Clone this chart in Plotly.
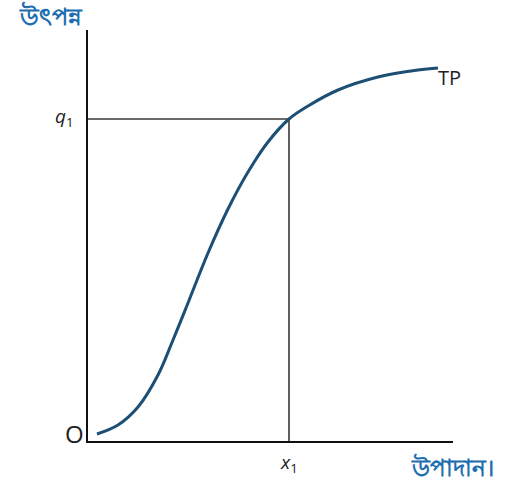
import plotly.graph_objects as go

# Total product curve: input (x) vs output (y)
tp_input = [0.9, 3.0, 5.0, 7.0, 8.5, 10.0, 12.0, 14.0, 16.0, 18.0, 20.1, 22.0, 25.0, 29.0, 33.0, 35.0]
tp_output = [0.7, 1.6, 3.4, 6.6, 10.1, 13.8, 18.8, 23.2, 26.9, 29.9, 32.2, 33.5, 35.1, 36.4, 37.1, 37.3]

# Marked point on the curve
x1_value = 20.1
q1_value = 32.2

x_max = 36.5
y_max = 41.1

fig = go.Figure()

# Guide lines from the marked point to the axes
fig.add_trace(go.Scatter(
    x=[0, x1_value, x1_value], y=[q1_value, q1_value, 0],
    mode="lines", line=dict(color="#3a3a3a", width=1.6),
    hoverinfo="skip", showlegend=False,
))

fig.add_trace(go.Scatter(
    x=tp_input, y=tp_output, mode="lines",
    line=dict(color="#1d4f74", width=3, shape="spline", smoothing=1.0),
    showlegend=False,
))

fig.update_xaxes(range=[0, x_max], showline=True, linecolor="#111", linewidth=2,
                 showgrid=False, zeroline=False, showticklabels=False, ticks="")
fig.update_yaxes(range=[0, y_max], showline=True, linecolor="#111", linewidth=2,
                 showgrid=False, zeroline=False, showticklabels=False, ticks="")

annotations = [
    dict(x=x1_value, y=0, xref="x", yref="y", text="<i>x</i><sub>1</sub>",
         yshift=-22, showarrow=False, font=dict(size=19, color="#222")),
    dict(x=0, y=q1_value, xref="x", yref="y", text="<i>q</i><sub>1</sub>",
         xshift=-24, yshift=2, showarrow=False, font=dict(size=19, color="#222")),
    dict(x=0, y=0, xref="x", yref="y", text="O", xshift=-14, yshift=8,
         showarrow=False, font=dict(size=24, color="#222")),
    dict(x=tp_input[-1], y=tp_output[-1], xref="x", yref="y", text="TP",
         xanchor="left", xshift=-2, yshift=-9, showarrow=False,
         font=dict(size=20, color="#222")),
    dict(x=0, y=y_max, xref="x", yref="y", text="<b>উৎপন্ন</b>",
         xanchor="right", yanchor="bottom", xshift=-3, yshift=-4, showarrow=False,
         font=dict(size=24, color="#1f6fb0")),
    dict(x=x_max, y=0, xref="x", yref="y", text="<b>উপাদান।</b>",
         xanchor="left", yanchor="top", xshift=-44, yshift=-8, showarrow=False,
         font=dict(size=23, color="#1f6fb0")),
]

fig.update_layout(
    width=526, height=482,
    margin=dict(l=88, r=73, t=30, b=41),
    plot_bgcolor="white", paper_bgcolor="white",
    annotations=annotations,
    showlegend=False,
)

fig.write_html("out.html")
